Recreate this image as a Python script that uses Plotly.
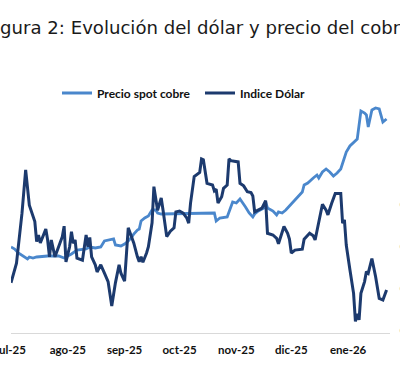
import datetime as dt
import plotly.graph_objects as go

# ---- data ----
copper_dates = [
    "2025-07-01", "2025-07-03", "2025-07-05", "2025-07-08", "2025-07-10", "2025-07-11",
    "2025-07-13", "2025-07-15", "2025-07-19", "2025-07-21", "2025-07-27", "2025-07-29",
    "2025-07-30", "2025-08-03", "2025-08-06", "2025-08-11", "2025-08-13", "2025-08-16",
    "2025-08-19", "2025-08-21", "2025-08-25", "2025-08-26", "2025-08-27", "2025-08-30",
    "2025-09-01", "2025-09-03", "2025-09-05", "2025-09-06", "2025-09-08", "2025-09-09",
    "2025-09-10", "2025-09-12", "2025-09-14", "2025-09-16", "2025-09-18", "2025-09-19",
    "2025-09-21", "2025-10-20", "2025-10-21", "2025-10-23", "2025-10-27", "2025-10-29",
    "2025-10-30", "2025-11-01", "2025-11-03", "2025-11-06", "2025-11-08", "2025-11-10",
    "2025-11-11", "2025-11-13", "2025-11-14", "2025-11-16", "2025-11-17", "2025-11-18",
    "2025-11-21", "2025-11-23", "2025-11-24", "2025-11-26", "2025-11-28", "2025-11-30",
    "2025-12-02", "2025-12-04", "2025-12-07", "2025-12-08", "2025-12-10", "2025-12-13",
    "2025-12-15", "2025-12-16", "2025-12-18", "2025-12-20", "2025-12-22", "2025-12-24",
    "2025-12-26", "2025-12-28", "2025-12-29", "2025-12-31", "2026-01-02", "2026-01-04",
    "2026-01-06", "2026-01-08", "2026-01-10", "2026-01-11", "2026-01-12", "2026-01-14",
    "2026-01-16", "2026-01-18", "2026-01-20", "2026-01-22",
]
copper_values = [
    4.43, 4.41, 4.37, 4.33, 4.31, 4.33,
    4.32, 4.33, 4.34, 4.34, 4.34, 4.33,
    4.32, 4.36, 4.40, 4.41, 4.43, 4.42,
    4.43, 4.49, 4.50, 4.51, 4.45, 4.44,
    4.46, 4.49, 4.53, 4.56, 4.60, 4.61,
    4.69, 4.72, 4.74, 4.80, 4.80, 4.77,
    4.76, 4.77, 4.69, 4.72, 4.73, 4.84,
    4.88, 4.87, 4.91, 4.83, 4.77, 4.73,
    4.76, 4.79, 4.80, 4.82, 4.88, 4.82,
    4.79, 4.75, 4.78, 4.77, 4.80, 4.84,
    4.87, 4.92, 4.98, 5.05, 5.07, 5.12,
    5.15, 5.12, 5.18, 5.21, 5.18, 5.14,
    5.17, 5.21, 5.27, 5.38, 5.44, 5.48,
    5.51, 5.79, 5.77, 5.75, 5.63, 5.80,
    5.82, 5.81, 5.68, 5.71,
]

dollar_dates = [
    "2025-07-01", "2025-07-04", "2025-07-07", "2025-07-09", "2025-07-11", "2025-07-13",
    "2025-07-14", "2025-07-15", "2025-07-16", "2025-07-17", "2025-07-19", "2025-07-20",
    "2025-07-21", "2025-07-22", "2025-07-23", "2025-07-24", "2025-07-25", "2025-07-27",
    "2025-07-29", "2025-07-30", "2025-07-31", "2025-08-02", "2025-08-03", "2025-08-04",
    "2025-08-05", "2025-08-06", "2025-08-09", "2025-08-11", "2025-08-12", "2025-08-13",
    "2025-08-14", "2025-08-16", "2025-08-17", "2025-08-19", "2025-08-20", "2025-08-21",
    "2025-08-23", "2025-08-25", "2025-08-27", "2025-08-29", "2025-08-30", "2025-09-01",
    "2025-09-03", "2025-09-06", "2025-09-08", "2025-09-09", "2025-09-10", "2025-09-11",
    "2025-09-13", "2025-09-14", "2025-09-16", "2025-09-17", "2025-09-19", "2025-09-20",
    "2025-09-21", "2025-09-22", "2025-09-24", "2025-09-26", "2025-09-28", "2025-09-29",
    "2025-10-01", "2025-10-03", "2025-10-05", "2025-10-06", "2025-10-07", "2025-10-09",
    "2025-10-11", "2025-10-12", "2025-10-13", "2025-10-14", "2025-10-16", "2025-10-19",
    "2025-10-20", "2025-10-21", "2025-10-22", "2025-10-24", "2025-10-25", "2025-10-27",
    "2025-10-28", "2025-10-29", "2025-11-02", "2025-11-03", "2025-11-05", "2025-11-07",
    "2025-11-09", "2025-11-10", "2025-11-11", "2025-11-13", "2025-11-15", "2025-11-17",
    "2025-11-18", "2025-11-21", "2025-11-23", "2025-11-24", "2025-11-26", "2025-11-27",
    "2025-11-29", "2025-11-30", "2025-12-01", "2025-12-03", "2025-12-07", "2025-12-08",
    "2025-12-11", "2025-12-13", "2025-12-14", "2025-12-16", "2025-12-18", "2025-12-20",
    "2025-12-21", "2025-12-23", "2025-12-24", "2025-12-25", "2025-12-28", "2025-12-29",
    "2025-12-30", "2025-12-31", "2026-01-02", "2026-01-03", "2026-01-04", "2026-01-05",
    "2026-01-06", "2026-01-07", "2026-01-08", "2026-01-10", "2026-01-11", "2026-01-12",
    "2026-01-14", "2026-01-16", "2026-01-18", "2026-01-20", "2026-01-22",
]
dollar_values = [
    96.17, 96.64, 97.83, 98.86, 98.02, 97.75,
    97.63, 97.15, 97.31, 97.12, 97.36, 97.45,
    97.19, 96.79, 97.19, 96.95, 96.79, 97.03,
    97.27, 97.52, 96.67, 97.03, 97.39, 97.11,
    97.19, 96.76, 96.71, 97.31, 97.03, 97.25,
    96.79, 96.60, 96.43, 96.60, 96.48, 96.40,
    96.20, 95.62, 96.17, 96.60, 96.40, 96.21,
    97.48, 97.12, 96.79, 96.67, 96.79, 96.66,
    96.88, 97.03, 97.60, 98.46, 97.90, 98.07,
    98.19, 97.90, 97.27, 97.40, 97.48, 97.86,
    97.88, 97.83, 97.71, 97.59, 98.07, 98.70,
    98.78, 98.80, 99.12, 99.10, 98.54, 98.50,
    98.36, 98.40, 98.07, 98.22, 98.42, 98.50,
    99.12, 99.08, 99.05, 98.54, 98.48, 98.34,
    98.32, 98.24, 97.86, 97.90, 97.95, 98.13,
    97.35, 97.31, 97.23, 97.10, 97.35, 97.51,
    97.35, 97.21, 96.88, 96.95, 96.97, 97.21,
    97.35, 97.29, 97.19, 97.59, 98.04, 97.90,
    97.79, 98.06, 98.18, 98.30, 98.30, 97.59,
    97.67, 97.07, 96.48, 96.24, 95.92, 95.25,
    95.43, 95.29, 95.92, 96.20, 96.44, 96.40,
    96.75, 96.32, 95.80, 95.76, 96.00,
]

month_ticks = ["2025-07-01", "2025-08-01", "2025-09-01", "2025-10-01",
               "2025-11-01", "2025-12-01", "2026-01-01"]
month_labels = ["jul-25", "ago-25", "sep-25", "oct-25", "nov-25", "dic-25", "ene-26"]
dollar_ticks = [95, 96, 97, 98]

title_text = "Figura 2: Evolución del dólar y precio del cobre"
copper_name = "Precio spot cobre"
dollar_name = "Indice Dólar"

# ---- layout geometry ----
W, H = 400, 383
L, R, T, B = 11, 390, 100, 333
px_per_day = 1.832
x0 = dt.datetime(2025, 7, 1)
x1 = x0 + dt.timedelta(days=(R - L) / px_per_day)

LIGHT = "#4a87cc"
DARK = "#1c3a6e"
TEXT_FONT = "Lato"

fig = go.Figure()
fig.add_trace(go.Scatter(x=copper_dates, y=copper_values, name=copper_name,
                         mode="lines", line=dict(color=LIGHT, width=2.8),
                         yaxis="y"))
fig.add_trace(go.Scatter(x=dollar_dates, y=dollar_values, name=dollar_name,
                         mode="lines", line=dict(color=DARK, width=3.0),
                         yaxis="y2"))

plot_h = B - T
plot_w = R - L

fig.update_layout(
    width=W, height=H, autosize=False,
    margin=dict(l=L, r=W - R, t=T, b=H - B, pad=0, autoexpand=False),
    paper_bgcolor="white", plot_bgcolor="white",
    showlegend=True,
    legend=dict(orientation="h", x=(57 - L) / plot_w, xanchor="left",
                y=(B - 93) / plot_h, yanchor="middle",
                entrywidth=98, entrywidthmode="pixels",
                font=dict(family=TEXT_FONT, size=12, color="#111111", weight="bold"),
                bgcolor="rgba(0,0,0,0)", borderwidth=0),
    xaxis=dict(type="date", range=[x0, x1], showgrid=False, zeroline=False,
               showline=True, linecolor="#d9d9d9", linewidth=1,
               tickmode="array", tickvals=month_ticks, ticktext=month_labels,
               ticks="", ticklabelstandoff=6, ticklabeloverflow="allow",
               automargin=False,
               tickfont=dict(family=TEXT_FONT, size=11.5, color="#111111", weight="bold")),
    yaxis=dict(range=[6.90 - B / 100, 6.90 - T / 100], showgrid=False, zeroline=False,
               showline=False, showticklabels=False, ticks="", automargin=False),
    yaxis2=dict(overlaying="y", side="right",
                range=[96 + (290 - B) / 42, 96 + (290 - T) / 42],
                showgrid=False, zeroline=False, showline=False,
                tickmode="array", tickvals=dollar_ticks, ticks="",
                ticklabelstandoff=8, ticklabeloverflow="allow", automargin=False,
                tickfont=dict(family=TEXT_FONT, size=11, color="#e2d6b8")),
    annotations=[dict(text=title_text, xref="paper", yref="paper",
                      x=(-16 - L) / plot_w, xanchor="left",
                      y=(B - 27.2) / plot_h, yanchor="middle", showarrow=False,
                      font=dict(family="DejaVu Sans", size=18.1, color="#1a1a1a"))],
)

fig.write_html("out.html", config={"displayModeBar": False},
               post_script="document.body.style.margin='0';document.body.style.overflow='hidden';")
